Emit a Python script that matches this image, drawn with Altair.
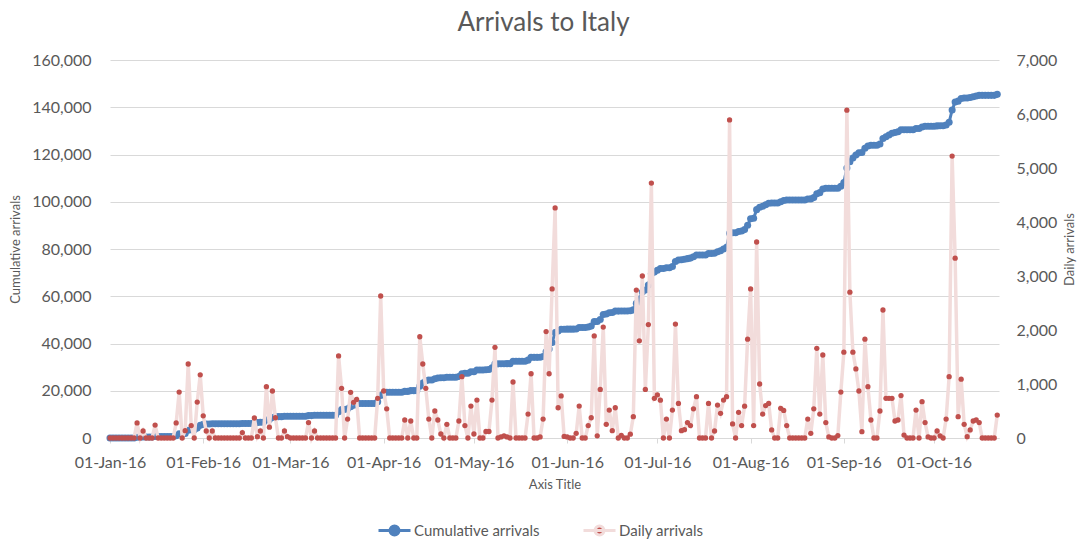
import altair as alt
import pandas as pd

# Daily arrivals, one list per month (2016)
jan = [0, 0, 0, 0, 0, 0, 0, 0, 0, 280, 0, 130, 0, 0, 0, 240, 0, 0, 0, 0, 0, 0,
       280, 850, 0, 135, 1370, 230, 0, 665, 1170]
feb = [410, 130, 0, 130, 0, 0, 0, 0, 0, 0, 0, 0, 0, 100, 0, 0, 0,
       370, 25, 130, 0, 950, 200, 870, 375, 0, 0, 130, 25]
mar = [0, 0, 0, 0, 0, 0, 285, 0, 130, 0, 0, 0, 0, 0, 0, 0, 1520, 920, 0, 350,
       845, 660, 715, 0, 0, 0, 0, 0, 0, 735, 2630]
apr = [870, 540, 0, 0, 0, 0, 0, 333, 0, 315, 0, 0, 1875, 1370, 920, 350, 0,
       500, 333, 74, 0, 253, 0, 0, 0, 315, 1135, 230, 0, 592]
may = [74, 703, 0, 0, 120, 120, 703, 1680, 0, 20, 40, 20, 0, 1037, 0, 0, 0, 0,
       444, 1190, 0, 0, 20, 350, 1970, 1190, 2760, 4260, 560, 780, 30]
jun = [20, 0, 0, 86, 592, 0, 0, 230, 375, 1890, 40, 900, 2055, 253, 518, 135,
       560, 0, 50, 0, 0, 70, 395, 2740, 1800, 3000, 900, 2100, 4720, 735]
jul = [800, 700, 0, 350, 0, 518, 2110, 640, 135, 155, 285, 230, 540, 765, 0, 0,
       0, 640, 0, 130, 610, 457, 703, 765, 5890, 260, 0, 475, 230, 590, 1830]
aug = [2760, 230, 3630, 1000, 444, 600, 640, 150, 0, 0, 550, 510, 230, 0, 0, 0,
       0, 0, 0, 350, 86, 540, 1660, 444, 1537, 285, 20, 0, 0, 45, 850]
sep = [1590, 6070, 2700, 1590, 1280, 870, 117, 1830, 950, 333, 0, 0, 500, 2370,
       735, 735, 735, 315, 333, 785, 55, 0, 0, 0, 518, 0, 672, 285, 20, 0]
octo = [0, 130, 40, 0, 350, 1135, 5220, 3330, 395, 1090, 253, 25, 150, 315,
        333, 285, 0, 0, 0, 0, 0, 425]

months = [jan, feb, mar, apr, may, jun, jul, aug, sep, octo]
daily = [v for m in months for v in m]
dates = pd.date_range("2016-01-01", periods=len(daily), freq="D").strftime("%Y-%m-%d").tolist()
df = pd.DataFrame({"date": dates, "daily": daily})

SERIES = ["Cumulative arrivals", "Daily arrivals"]
LINE_COLORS = ["#4F81BD", "#F2DCDB"]
DOT_COLORS = ["#4F81BD", "#C0504D"]
LEFT_TICKS = [0, 20000, 40000, 60000, 80000, 100000, 120000, 140000, 160000]
RIGHT_TICKS = [0, 1000, 2000, 3000, 4000, 5000, 6000, 7000]
MONTH_TICKS = [alt.DateTime(year=2016, month=m, date=1, utc=True) for m in range(1, 11)]

FONT = "Lato"
GREY = "#595959"
GRID = "#D9D9D9"
LEGEND_SYMBOL = "M-1,0H1M-0.28,0A0.28,0.28,0,1,1,0.28,0A0.28,0.28,0,1,1,-0.28,0Z"

x_enc = alt.X(
    "date:T",
    scale=alt.Scale(type="utc", domain=[
        alt.DateTime(year=2016, month=1, date=1, utc=True),
        alt.DateTime(year=2016, month=10, date=22, hours=14, utc=True)]),
    axis=alt.Axis(title="Axis Title", values=MONTH_TICKS,
                  labelExpr="utcFormat(datum.value, '%d-%b-%y')",
                  grid=False, domain=True, domainColor=GRID, ticks=True,
                  tickColor=GRID, tickSize=5, labelPadding=11, titlePadding=8,
                  labelFlush=False, labelOverlap=False,
                  labelFont=FONT, labelFontSize=16, labelColor=GREY,
                  titleFont=FONT, titleFontSize=13, titleColor=GREY,
                  titleFontWeight="normal"),
)

legend = alt.Legend(title=None, orient="none", legendX=267, legendY=453,
                    direction="horizontal", symbolType=LEGEND_SYMBOL,
                    symbolSize=1024, symbolStrokeWidth=3,
                    labelFont=FONT, labelFontSize=15, labelColor=GREY,
                    labelOffset=2, columnPadding=37)

color_enc = alt.Color("series:N", scale=alt.Scale(domain=SERIES, range=LINE_COLORS),
                      legend=legend)
fill_enc = alt.Fill("series:N", scale=alt.Scale(domain=SERIES, range=DOT_COLORS),
                    legend=legend)

cum_base = alt.Chart(df).transform_window(
    cum="sum(daily)", sort=[alt.SortField("date", order="ascending")], frame=[None, 0]
).transform_calculate(series="'Cumulative arrivals'").encode(
    x=x_enc,
    y=alt.Y("cum:Q", scale=alt.Scale(domain=[0, 160000], nice=False),
            axis=alt.Axis(title="Cumulative arrivals", orient="left", values=LEFT_TICKS,
                          format=",.0f", grid=True, gridColor=GRID, domain=False,
                          ticks=False, tickSize=0, labelPadding=19, titlePadding=9,
                          labelFont=FONT, labelFontSize=16, labelColor=GREY,
                          titleFont=FONT, titleFontSize=13, titleColor=GREY,
                          titleFontWeight="normal")),
)
cum_line = cum_base.mark_line(strokeWidth=3).encode(color=color_enc)
cum_pts = cum_base.mark_circle(size=50, opacity=1).encode(fill=fill_enc)

d_base = alt.Chart(df).transform_calculate(series="'Daily arrivals'").encode(
    x=x_enc,
    y=alt.Y("daily:Q", scale=alt.Scale(domain=[0, 7000], nice=False),
            axis=alt.Axis(title="Daily arrivals", orient="right", values=RIGHT_TICKS,
                          format=",.0f", grid=False, domain=False, ticks=False,
                          tickSize=0, labelPadding=17, titlePadding=7,
                          titleAngle=270, titleBaseline="top",
                          labelFont=FONT, labelFontSize=16, labelColor=GREY,
                          titleFont=FONT, titleFontSize=13, titleColor=GREY,
                          titleFontWeight="normal")),
)
d_line = d_base.mark_line(strokeWidth=3.5).encode(color=color_enc)
d_pts = d_base.mark_circle(size=28, opacity=1).encode(fill=fill_enc)

left = alt.layer(cum_line, cum_pts)
right = alt.layer(d_line, d_pts)

chart = alt.layer(left, right).resolve_scale(y="independent").properties(
    width=889, height=378,
    padding={"left": 110, "top": 60, "right": 84, "bottom": 104},
    autosize=alt.AutoSizeParams(type="none"),
    background="white",
    title=alt.TitleParams("Arrivals to Italy", font=FONT, fontSize=26, color=GREY,
                          fontWeight="normal", anchor="middle", offset=16, dx=-11),
).configure_view(stroke=None)

chart.save("out.html", embed_options={"renderer": "svg", "actions": False})
